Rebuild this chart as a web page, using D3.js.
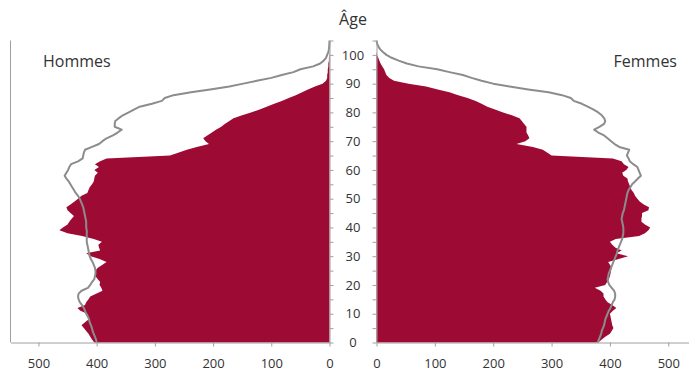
<!DOCTYPE html>
<html>
<head>
<meta charset="utf-8">
<script src="https://cdn.jsdelivr.net/npm/d3@7"></script>
<style>
  body { margin: 0; background: #fff; }
  text { font-family: "Open Sans", sans-serif; fill: #333; }
</style>
</head>
<body>
<div id="pyramid"></div>
<script>
// ages 0..105 (one value per year of age), population in thousands
const ages = d3.range(0, 106);

// filled pyramid, men
const menPop = [
  404, 408, 411, 414, 418, 422, 426, 420, 414, 415,
  416, 428, 433, 420, 418, 414, 411, 400, 390, 392,
  395, 394, 398, 402, 403, 402, 398, 390, 383, 395,
  410, 418, 394, 396, 397, 391, 405, 425, 450, 464,
  458, 450, 447, 443, 439, 445, 450, 452, 445, 438,
  432, 426, 416, 414, 412, 408, 405, 404, 403, 398,
  404, 396, 403, 394, 383, 274, 260, 245, 228, 207,
  213, 217, 210, 202, 195, 186, 180, 172, 165, 150,
  135, 120, 108, 95, 82, 70, 58, 47, 37, 25,
  12, 6, 4, 4, 3, 3, 2, 2, 1, 1,
  0.5, 0, 0, 0, 0, 0
];

// filled pyramid, women
const womenPop = [
  380, 386, 392, 400, 403, 406, 404, 403, 402, 401,
  400, 405, 411, 404, 396, 392, 389, 389, 384, 374,
  392, 395, 398, 400, 401, 402, 403, 400, 397, 415,
  431, 411, 420, 409, 404, 400, 410, 450, 460, 466,
  469, 460, 454, 454, 455, 455, 466, 467, 458, 451,
  447, 443, 441, 437, 435, 433, 431, 430, 423, 421,
  428, 432, 424, 420, 405, 300, 293, 285, 268, 240,
  255, 262, 260, 257, 257, 257, 253, 249, 245, 232,
  217, 203, 190, 180, 170, 156, 140, 125, 105, 85,
  55, 30, 22, 17, 15, 13, 10, 7, 5, 3,
  1, 0, 0, 0, 0, 0
];

// grey outline, men
const menLine = [
  400, 401, 403, 405, 407, 408, 410, 412, 413, 415,
  418, 420, 422, 425, 429, 431, 432, 431, 426, 415,
  411, 408, 404, 403, 402, 402, 403, 405, 407, 410,
  412, 413, 414, 415, 416, 417, 417, 417, 417, 417,
  418, 418, 418, 419, 420, 421, 422, 423, 425, 427,
  429, 432, 436, 439, 442, 445, 448, 452, 455, 452,
  449, 447, 444, 432, 424, 423, 422, 420, 408, 396,
  390, 383, 372, 364, 357, 369, 369, 368, 362, 355,
  345, 336, 326, 305, 288, 283, 268, 238, 205, 172,
  148, 125, 100, 82, 62, 50, 28, 16, 10, 6,
  4, 2, 1, 0.5, 0.2, 0
];

// grey outline, women
const womenLine = [
  379, 381, 383, 385, 386, 388, 390, 391, 392, 394,
  396, 398, 401, 403, 405, 408, 409, 409, 407, 403,
  399, 397, 396, 397, 398, 400, 402, 404, 406, 408,
  410, 412, 413, 415, 417, 419, 421, 422, 423, 423,
  423, 422, 421, 420, 421, 422, 424, 425, 426, 427,
  428, 429, 430, 432, 435, 438, 443, 448, 453, 451,
  449, 447, 440, 434, 432, 429, 431, 433, 416, 408,
  402, 396, 390, 380, 373, 382, 390, 392, 390, 386,
  380, 372, 362, 352, 338, 333, 318, 295, 260, 228,
  200, 180, 163, 148, 125, 104, 72, 52, 38, 26,
  17, 11, 6, 3, 1, 0
];

const popTicks = [0, 100, 200, 300, 400, 500];
const ageTicks = d3.range(0, 106, 5);
const ageLabels = d3.range(0, 101, 10);

const width = 689, height = 371;
const fillColor = "#9d0b35", lineColor = "#8c8c8c", axisColor = "#a0a0a0";

const svg = d3.select("#pyramid")
  .append("svg")
    .attr("width", width)
    .attr("height", height);

// scales
const y = d3.scaleLinear().domain([0, 105]).range([342.5, 40.5]);
const xL = d3.scaleLinear().domain([0, 548]).range([329.5, 10.5]);
const xR = d3.scaleLinear().domain([0, 535.5]).range([376.5, 689]);

const rows = (vals) => ages.map((a, i) => ({ age: a, v: vals[i] }));

// filled areas
svg.append("path")
  .datum(rows(menPop))
  .attr("fill", fillColor)
  .attr("d", d3.area().y(d => y(d.age)).x0(xL(0)).x1(d => xL(d.v)));

svg.append("path")
  .datum(rows(womenPop))
  .attr("fill", fillColor)
  .attr("d", d3.area().y(d => y(d.age)).x0(xR(0)).x1(d => xR(d.v)));

// grey outlines
svg.append("path")
  .datum(rows(menLine))
  .attr("fill", "none")
  .attr("stroke", lineColor)
  .attr("stroke-width", 2)
  .attr("stroke-linejoin", "round")
  .attr("d", d3.line().x(d => xL(d.v)).y(d => y(d.age)));

svg.append("path")
  .datum(rows(womenLine))
  .attr("fill", "none")
  .attr("stroke", lineColor)
  .attr("stroke-width", 2)
  .attr("stroke-linejoin", "round")
  .attr("d", d3.line().x(d => xR(d.v)).y(d => y(d.age)));

// axes
function styleAxis(g) {
  g.selectAll("path, line").attr("stroke", axisColor);
  g.selectAll("text")
    .style("font-family", "'Open Sans', sans-serif")
    .style("font-size", "13px")
    .attr("fill", "#333");
}

svg.append("g")
  .attr("transform", `translate(${xL(0)},0)`)
  .call(d3.axisRight(y).tickValues(ageTicks).tickSize(4).tickSizeOuter(0).tickFormat(""))
  .call(styleAxis);

svg.append("g")
  .attr("transform", `translate(${xR(0)},0)`)
  .call(d3.axisLeft(y).tickValues(ageTicks).tickSize(4).tickSizeOuter(0).tickFormat(""))
  .call(styleAxis);

svg.append("g")
  .attr("transform", `translate(0,${y(0)})`)
  .call(d3.axisBottom(xL).tickValues(popTicks).tickSize(4).tickSizeOuter(0).tickPadding(12))
  .call(styleAxis);

svg.append("g")
  .attr("transform", `translate(0,${y(0)})`)
  .call(d3.axisBottom(xR).tickValues(popTicks).tickSize(4).tickSizeOuter(0).tickPadding(12))
  .call(styleAxis);

// left border
svg.append("line")
  .attr("x1", xL(548)).attr("x2", xL(548))
  .attr("y1", y(105)).attr("y2", y(0))
  .attr("stroke", axisColor);

// age labels between the two halves
svg.selectAll(".ageLabel")
  .data(ageLabels)
  .join("text")
  .attr("class", "ageLabel")
  .attr("x", (xL(0) + xR(0)) / 2)
  .attr("y", d => y(d))
  .attr("dy", "0.36em")
  .style("text-anchor", "middle")
  .style("font-size", "13px")
  .text(d => d);

// titles
svg.append("text")
  .attr("x", (xL(0) + xR(0)) / 2)
  .attr("y", 25)
  .style("text-anchor", "middle")
  .style("font-size", "16px")
  .text("Âge");

svg.append("text")
  .attr("x", 43)
  .attr("y", 67)
  .style("font-size", "16px")
  .text("Hommes");

svg.append("text")
  .attr("x", 677)
  .attr("y", 67)
  .style("text-anchor", "end")
  .style("font-size", "16px")
  .text("Femmes");
</script>
</body>
</html>
